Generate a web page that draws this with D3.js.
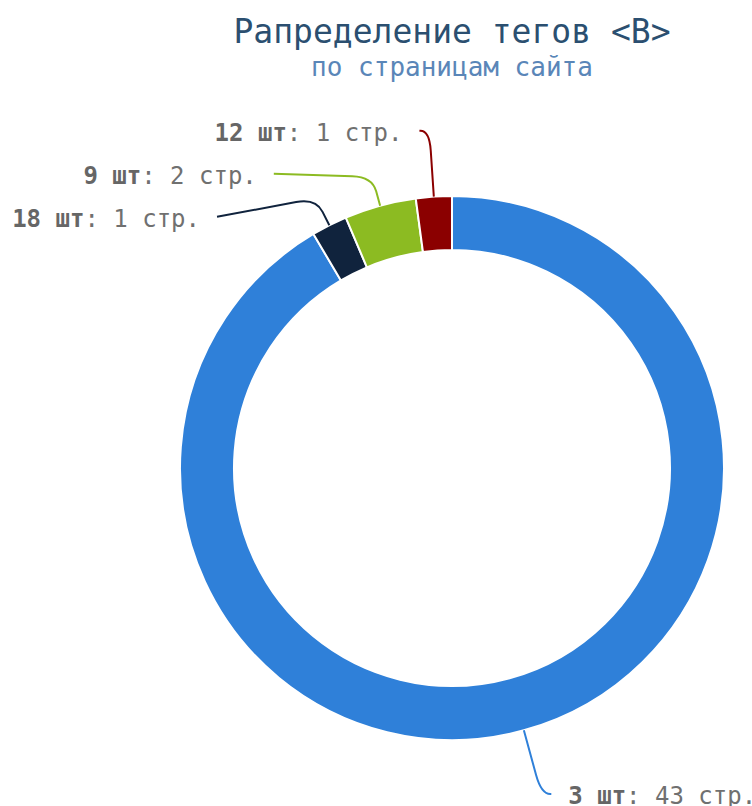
<!DOCTYPE html>
<html><head><meta charset="utf-8">
<script src="https://cdn.jsdelivr.net/npm/d3@7"></script>
<style>body{margin:0;background:#fff} svg{display:block}</style>
</head><body>
<svg id="c" width="752" height="806"></svg>
<script>
const tagCounts = ["3 шт", "18 шт", "9 шт", "12 шт"];
const pageCounts = [43, 1, 2, 1];
const pageUnit = "стр.";
const sliceColors = ["#2f80d9", "#10233d", "#8cbb22", "#8b0000"];
const titleText = "Рапределение тегов <B>";
const subtitleText = "по страницам сайта";

const FONT = "'DejaVu Sans Mono', monospace";
const cx = 452, cy = 468, rOuter = 272, rInner = 218;
const svg = d3.select("#c");

svg.append("text").attr("x", cx).attr("y", 43).attr("text-anchor", "middle")
  .attr("font-family", FONT).attr("font-size", 33).attr("fill", "#2b4f70").text(titleText);
svg.append("text").attr("x", cx).attr("y", 76).attr("text-anchor", "middle")
  .attr("font-family", FONT).attr("font-size", 26).attr("fill", "#5a86b8").text(subtitleText);

const pie = d3.pie().sort(null).value(d => d)(pageCounts);
const arc = d3.arc().innerRadius(rInner).outerRadius(rOuter);

const g = svg.append("g");
g.selectAll("path.slice").data(pie).join("path").attr("class", "slice")
  .attr("transform", `translate(${cx},${cy})`)
  .attr("d", arc).attr("fill", (d, i) => sliceColors[i])
  .attr("stroke", "#fff").attr("stroke-width", 2);

// label layout
const labelR = rOuter + 66, len2 = 10, gap = 43, spreadR = labelR + 6;
const pt = (a, r) => ({x: cx + r * Math.sin(a), y: cy - r * Math.cos(a)});
const items = pie.map((d, i) => {
  const mid = (d.startAngle + d.endAngle) / 2;
  const side = Math.sin(mid) < 0 ? -1 : 1;
  const touch = pt(mid, rOuter);
  const bend = pt(mid, labelR);
  return {i, mid, side, touch, bend, x: bend.x + side * len2, y: bend.y, moved: false};
});
[-1, 1].forEach(s => {
  const grp = items.filter(d => d.side === s).sort((a, b) => a.y - b.y);
  for (let k = 1; k < grp.length; k++) {
    if (grp[k].y < grp[k - 1].y + gap) {
      grp[k].y = grp[k - 1].y + gap;
      grp[k].moved = true;
    }
  }
});
items.forEach(d => {
  if (d.moved) {
    const dy = d.y - cy;
    d.x = cx + d.side * Math.sqrt(spreadR * spreadR - dy * dy);
    d.bend = pt(d.mid, rOuter + 30);
  }
});

function connector(d) {
  const P0 = {x: d.x, y: d.y}, P1 = d.bend, P2 = d.touch;
  const l01 = Math.hypot(P0.x - P1.x, P0.y - P1.y);
  const l12 = Math.hypot(P2.x - P1.x, P2.y - P1.y);
  const dA = Math.min(l01 * 0.9, 20), dB = Math.min(l12 * 0.5, 20);
  const A = {x: P1.x + (P0.x - P1.x) * dA / l01, y: P1.y + (P0.y - P1.y) * dA / l01};
  const B = {x: P1.x + (P2.x - P1.x) * dB / l12, y: P1.y + (P2.y - P1.y) * dB / l12};
  const p = d3.path();
  p.moveTo(P0.x, P0.y);
  p.lineTo(A.x, A.y);
  p.quadraticCurveTo(P1.x, P1.y, B.x, B.y);
  p.lineTo(P2.x, P2.y);
  return p.toString();
}

g.selectAll("path.conn").data(items).join("path").attr("class", "conn")
  .attr("d", connector).attr("fill", "none")
  .attr("stroke", d => sliceColors[d.i]).attr("stroke-width", 2);

const lbl = g.selectAll("text.lbl").data(items).join("text").attr("class", "lbl")
  .attr("x", d => d.x + d.side * 17).attr("y", d => d.y).attr("dy", "0.42em")
  .attr("text-anchor", d => d.side < 0 ? "end" : "start")
  .attr("font-family", FONT).attr("font-size", 24);
lbl.append("tspan").attr("font-weight", "bold").attr("fill", "#666666").text(d => tagCounts[d.i]);
lbl.append("tspan").attr("fill", "#707070").text(d => ": " + pageCounts[d.i] + " " + pageUnit);
</script>
</body></html>
